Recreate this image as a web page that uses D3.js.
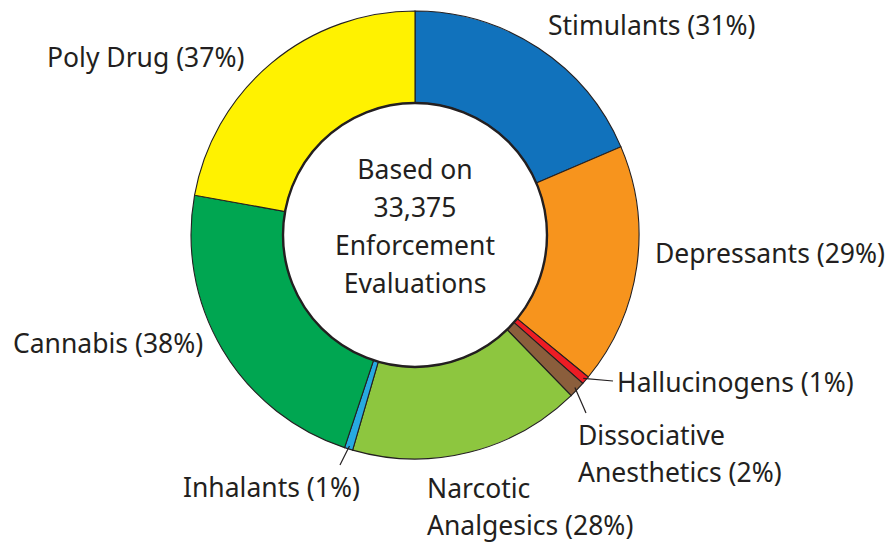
<!DOCTYPE html>
<html>
<head>
<meta charset="utf-8">
<script src="https://cdn.jsdelivr.net/npm/d3@7"></script>
<style>
  html, body { margin: 0; padding: 0; background: #fff; }
  svg text { font-family: "Noto Sans", "Open Sans", sans-serif; fill: #231f20; }
</style>
</head>
<body>
<svg id="chart" width="891" height="543"></svg>
<script>
// categories, clockwise from 12 o'clock
const categorias = ["Stimulants", "Depressants", "Hallucinogens", "Dissociative Anesthetics",
  "Narcotic Analgesics", "Inhalants", "Cannabis", "Poly Drug"];
const percentuais = [31, 29, 1, 2, 28, 1, 38, 37];
const cores = ["#1172bc", "#f7941d", "#ed1c24", "#8b5e3c", "#8dc63f", "#27aae1", "#00a651", "#fff200"];
const textoCentro = ["Based on", "33,375", "Enforcement", "Evaluations"];

// label layout: lines, left x, first baseline, optional leader end point
const rotulos = {
  "Stimulants": { linhas: ["Stimulants (31%)"], x: 548, y: 35 },
  "Depressants": { linhas: ["Depressants (29%)"], x: 655, y: 263 },
  "Hallucinogens": { linhas: ["Hallucinogens (1%)"], x: 617, y: 392, guia: [613, 381] },
  "Dissociative Anesthetics": { linhas: ["Dissociative", "Anesthetics (2%)"], x: 578, y: 445, guia: [586, 413] },
  "Narcotic Analgesics": { linhas: ["Narcotic", "Analgesics (28%)"], x: 427, y: 498 },
  "Inhalants": { linhas: ["Inhalants (1%)"], x: 183, y: 497, guia: [340, 465] },
  "Cannabis": { linhas: ["Cannabis (38%)"], x: 13, y: 353 },
  "Poly Drug": { linhas: ["Poly Drug (37%)"], x: 47, y: 67 }
};

const cx = 415, cy = 235;
const raioExt = 224, raioInt = 132;
const fonte = 26.5, entrelinha = 37;

const svg = d3.select("#chart");
const g = svg.append("g").attr("transform", `translate(${cx},${cy})`);

const dados = categorias.map((c, i) => ({ nome: c, valor: percentuais[i], cor: cores[i] }));

const pie = d3.pie().sort(null).value(d => d.valor);
const arco = d3.arc().innerRadius(raioInt).outerRadius(raioExt);
const fatias = pie(dados);

g.selectAll("path.fatia")
  .data(fatias)
  .enter().append("path")
  .attr("class", "fatia")
  .attr("d", arco)
  .attr("fill", d => d.data.cor)
  .attr("stroke", "#231f20")
  .attr("stroke-width", 1.1)
  .attr("stroke-linejoin", "miter");

// inner white circle with heavier outline
g.append("circle")
  .attr("r", raioInt)
  .attr("fill", "#fff")
  .attr("stroke", "#231f20")
  .attr("stroke-width", 2.4);

// center text
g.append("text")
  .attr("text-anchor", "middle")
  .style("font-size", fonte + "px")
  .selectAll("tspan")
  .data(textoCentro)
  .enter().append("tspan")
  .attr("x", 0)
  .attr("y", (d, i) => 179 - cy + i * 38)
  .text(d => d);

// leader lines for small slices
fatias.forEach(f => {
  const r = rotulos[f.data.nome];
  if (!r.guia) return;
  const meio = (f.startAngle + f.endAngle) / 2;
  const x0 = Math.sin(meio) * (raioExt - 3);
  const y0 = -Math.cos(meio) * (raioExt - 3);
  g.append("line")
    .attr("x1", x0).attr("y1", y0)
    .attr("x2", r.guia[0] - cx).attr("y2", r.guia[1] - cy)
    .attr("stroke", "#231f20")
    .attr("stroke-width", 1.2);
});

// labels
fatias.forEach(f => {
  const r = rotulos[f.data.nome];
  svg.append("text")
    .style("font-size", fonte + "px")
    .selectAll("tspan")
    .data(r.linhas)
    .enter().append("tspan")
    .attr("x", r.x)
    .attr("y", (d, i) => r.y + i * entrelinha)
    .text(d => d);
});
</script>
</body>
</html>
